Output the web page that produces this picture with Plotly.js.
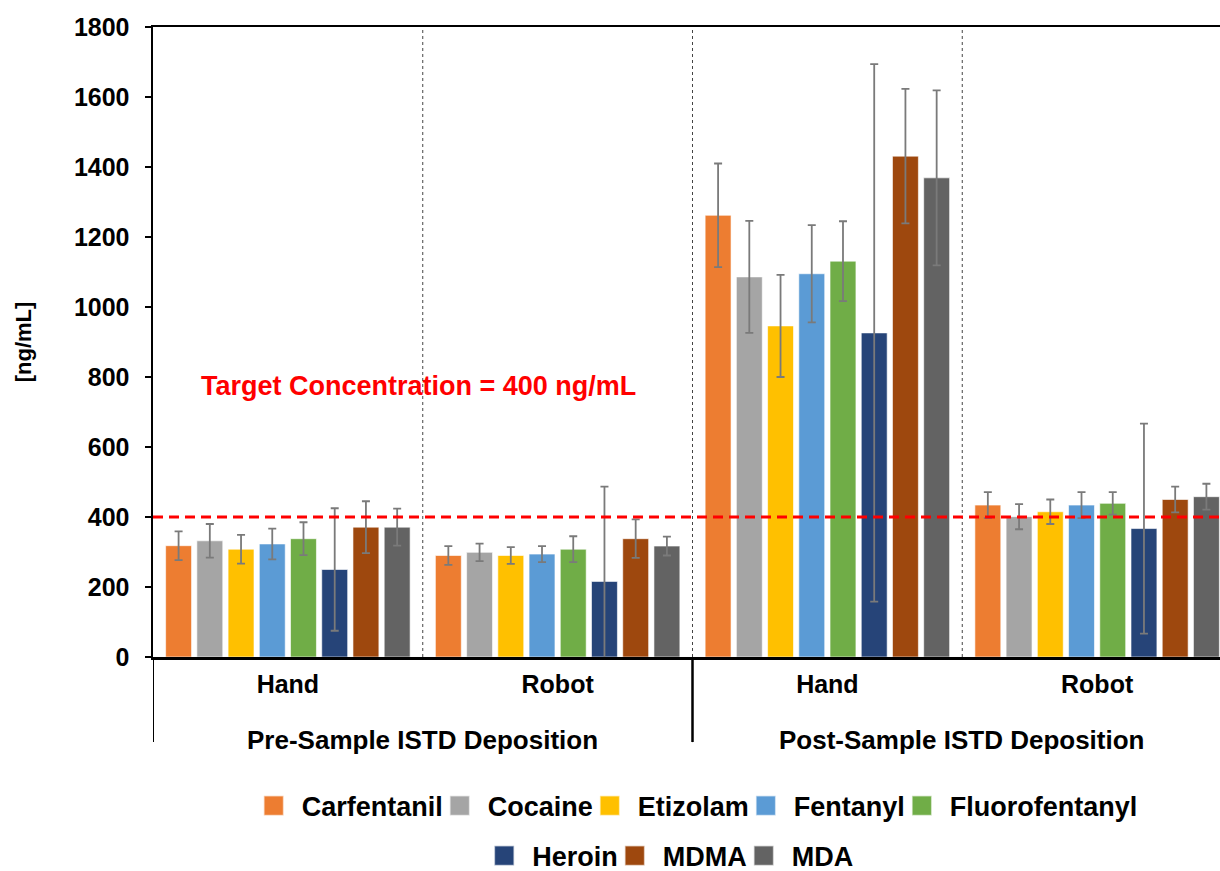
<!DOCTYPE html>
<html>
<head>
<meta charset="utf-8">
<script src="https://cdn.plot.ly/plotly-3.0.1.min.js"></script>
<style>
  html, body { margin: 0; padding: 0; background: #fff; overflow: hidden; }
  #chart { width: 1240px; height: 871px; }
</style>
</head>
<body>
<div id="chart"></div>
<script>
// Deposition mode (outer level) and sampling method (inner level)
const deposition = ['Pre-Sample ISTD Deposition', 'Pre-Sample ISTD Deposition',
                    'Post-Sample ISTD Deposition', 'Post-Sample ISTD Deposition'];
const method = ['Hand', 'Robot', 'Hand', 'Robot'];

const drugs = ['Carfentanil', 'Cocaine', 'Etizolam', 'Fentanyl', 'Fluorofentanyl',
               'Heroin', 'MDMA', 'MDA'];
const colors = ['#ED7D31', '#A5A5A5', '#FFC000', '#5B9BD5', '#70AD47',
                '#264478', '#9E480E', '#636363'];

// Measured concentration [ng/mL] per group: Pre-Hand, Pre-Robot, Post-Hand, Post-Robot
const carfentanil    = [318, 290, 1262, 434];
const cocaine        = [332, 299, 1086, 401];
const etizolam       = [308, 290, 946, 415];
const fentanyl       = [323, 294, 1095, 434];
const fluorofentanyl = [338, 308, 1131, 439];
const heroin         = [250, 216, 926, 367];
const mdma           = [371, 338, 1431, 450];
const mda            = [371, 317, 1369, 458];

// Standard deviations
const carfentanilSd    = [41, 27, 148, 37];
const cocaineSd        = [48, 25, 160, 36];
const etizolamSd       = [41, 24, 146, 35];
const fentanylSd       = [44, 23, 139, 37];
const fluorofentanylSd = [47, 37, 114, 32];
const heroinSd         = [175, 271, 768, 300];
const mdmaSd           = [74, 55, 192, 37];
const mdaSd            = [53, 27, 250, 37];

const targetConc = 400;
const yTicks = [0, 200, 400, 600, 800, 1000, 1200, 1400, 1600, 1800];

const means = [carfentanil, cocaine, etizolam, fentanyl, fluorofentanyl, heroin, mdma, mda];
const sds = [carfentanilSd, cocaineSd, etizolamSd, fentanylSd, fluorofentanylSd, heroinSd, mdmaSd, mdaSd];

const FONT = '"Liberation Sans", Arial, Helvetica, sans-serif';

// one slot per (deposition, method) pair along the x axis
const slots = method.map((_, i) => i);

const traces = drugs.map((name, i) => ({
  type: 'bar',
  name: name,
  x: slots,
  y: means[i],
  legend: i < 5 ? 'legend' : 'legend2',
  marker: { color: colors[i], line: { color: 'rgba(255,255,255,0.6)', width: 1 } },
  error_y: { type: 'data', array: sds[i], visible: true, color: '#7a7a7a', thickness: 1.8, width: 4 }
}));

// outer-level groups: centre position and bounds of each deposition mode
const groups = [];
deposition.forEach((d, i) => {
  const g = groups.find(o => o.name === d);
  if (g) { g.last = i; } else { groups.push({ name: d, first: i, last: i }); }
});

const shapes = [];
// dotted separators between every pair of slots inside the plot
slots.slice(1).forEach(s => shapes.push({
  type: 'line', xref: 'x', yref: 'paper', x0: s - 0.5, x1: s - 0.5, y0: 0, y1: 1,
  line: { color: '#444', width: 1, dash: 'dot' }, layer: 'above'
}));
// solid dividers below the axis at the deposition-group boundaries
groups.forEach(g => {
  [g.first - 0.5, g.last + 0.5].forEach(xv => shapes.push({
    type: 'line', xref: 'x', yref: 'paper', x0: xv, x1: xv, y0: 0, y1: -0.135,
    line: { color: '#000', width: 2 }
  }));
});
// target concentration reference line
shapes.push({
  type: 'line', xref: 'paper', yref: 'y', x0: 0, x1: 1, y0: targetConc, y1: targetConc,
  line: { color: '#FF0000', width: 3, dash: '10px,6px' }, layer: 'above'
});

const annotations = groups.map(g => ({
  xref: 'x', yref: 'paper', x: (g.first + g.last) / 2, y: -0.1317,
  xanchor: 'center', yanchor: 'middle', showarrow: false, text: g.name,
  font: { family: FONT, size: 26, color: '#000', weight: 'bold' }
}));
annotations.push({
  xref: 'paper', yref: 'y', x: 0.2456, y: 774, xanchor: 'center', yanchor: 'middle',
  text: 'Target Concentration = ' + targetConc + ' ng/mL', showarrow: false,
  font: { family: FONT, size: 27, color: '#FF0000', weight: 'bold' }
});

const legendFont = { family: FONT, size: 27, color: '#000', weight: 'bold' };

const layout = {
  width: 1240, height: 871,
  margin: { l: 153, r: 8, t: 27, b: 214 },
  paper_bgcolor: '#fff', plot_bgcolor: '#fff',
  font: { family: FONT, color: '#000', weight: 'bold' },
  barmode: 'group', bargap: 0.074, bargroupgap: 0.17,
  showlegend: true,
  legend: {
    orientation: 'h', xref: 'paper', yref: 'container',
    x: 0.509, xanchor: 'center', y: 0.0746, yanchor: 'middle',
    font: legendFont, traceorder: 'normal', bgcolor: 'rgba(0,0,0,0)'
  },
  legend2: {
    orientation: 'h', xref: 'paper', yref: 'container',
    x: 0.484, xanchor: 'center', y: 0.0172, yanchor: 'middle',
    font: legendFont, traceorder: 'normal', bgcolor: 'rgba(0,0,0,0)'
  },
  xaxis: {
    range: [-0.5, slots.length - 0.5],
    tickvals: slots, ticktext: method,
    showline: true, linecolor: '#000', linewidth: 2.5, mirror: true,
    showgrid: false, zeroline: false, ticks: '', ticklabelstandoff: 3,
    tickfont: { family: FONT, size: 25, color: '#000', weight: 'bold' }
  },
  yaxis: {
    range: [0, 1800], tickvals: yTicks,
    showline: true, linecolor: '#000', linewidth: 2.5,
    showgrid: false, zeroline: false,
    ticks: 'outside', ticklen: 6, tickwidth: 2, tickcolor: '#000',
    ticklabelstandoff: 10,
    tickfont: { family: FONT, size: 25, color: '#000', weight: 'bold' },
    title: { text: '[ng/mL]', font: { family: FONT, size: 22, color: '#000', weight: 'bold' }, standoff: 36 }
  },
  shapes: shapes,
  annotations: annotations
};

Plotly.newPlot('chart', traces, layout, { displayModeBar: false, staticPlot: true }).then(() => {
  // enlarge the legend swatches to square blocks next to their labels
  document.querySelectorAll('.legendpoints path').forEach(p => {
    p.setAttribute('transform', 'translate(12,0) scale(1.65)');
  });
});
</script>
</body>
</html>
